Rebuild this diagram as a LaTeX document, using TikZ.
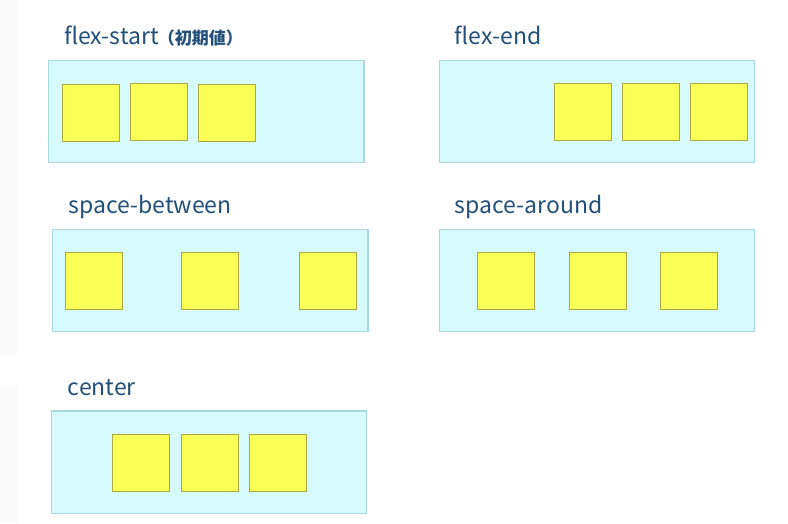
\documentclass[tikz,border=0pt]{standalone}
\usepackage{fontspec}
\setmainfont{Noto Sans CJK JP}
\newfontfamily\jpfont{Noto Sans CJK JP}
\definecolor{boxfill}{HTML}{D7FAFC}
\definecolor{boxline}{HTML}{A9D9DD}
\definecolor{sqfill}{HTML}{F9FF55}
\definecolor{sqline}{HTML}{A9A845}
\definecolor{titlecol}{HTML}{23507A}
\definecolor{edgegray}{HTML}{FAFAFA}
\tikzset{
  panel/.style={draw=boxline, fill=boxfill, line width=1.2pt},
  sq/.style={draw=sqline, fill=sqfill, line width=1pt, minimum width=57pt, minimum height=57pt, inner sep=0pt, anchor=north west},
  ttl/.style={text=titlecol, anchor=base west, inner sep=0pt, font=\fontsize{23}{28}\selectfont}
}
\begin{document}
\begin{tikzpicture}[x=1pt,y=-1pt]
\useasboundingbox (0,0) rectangle (788,523);
\fill[white] (0,0) rectangle (788,523);
\fill[edgegray] (0,0) rectangle (18,355);
\fill[edgegray] (0,385) rectangle (18,523);
% panel 1
\node[ttl] (t1) at (64,44) {flex-start\hspace{-1pt}{\jpfont\bfseries\fontsize{17}{20}\selectfont （初期値）}};
\draw[panel] (48.5,60.5) rectangle (364,162.5);
\node[sq] (a1) at (62,83.5) {};
\node[sq] (a2) at (129.5,83) {};
\node[sq] (a3) at (197.5,83.5) {};
% panel 2
\node[ttl] (t2) at (454.5,44) {flex-end};
\draw[panel] (439.5,60.5) rectangle (754.5,162.5);
\node[sq] (b1) at (554,83) {};
\node[sq] (b2) at (621.8,83) {};
\node[sq] (b3) at (689.5,83) {};
% panel 3
\node[ttl] (t3) at (68.5,213.5) {space-between};
\draw[panel] (52.5,229.5) rectangle (368,331.5);
\node[sq] (c1) at (65,252) {};
\node[sq] (c2) at (181,252) {};
\node[sq] (c3) at (298.5,252) {};
% panel 4
\node[ttl] (t4) at (454.5,213.5) {space-around};
\draw[panel] (439.5,229.5) rectangle (754.5,331.5);
\node[sq] (d1) at (476.7,252) {};
\node[sq] (d2) at (568.5,252) {};
\node[sq] (d3) at (660.3,252) {};
% panel 5
\node[ttl] (t5) at (67.7,395) {center};
\draw[panel] (51.2,411) rectangle (366.5,513.3);
\node[sq] (e1) at (112,434) {};
\node[sq] (e2) at (180.7,434) {};
\node[sq] (e3) at (249.3,434) {};
\end{tikzpicture}
\end{document}
